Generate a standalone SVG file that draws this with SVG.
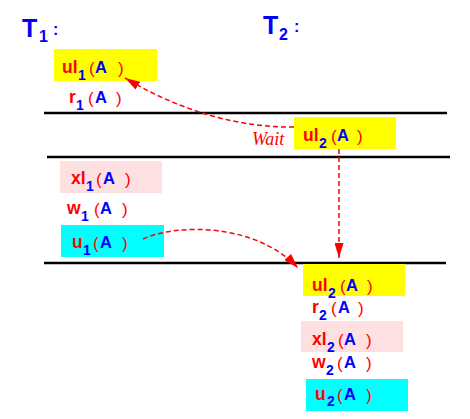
<svg xmlns="http://www.w3.org/2000/svg" width="470" height="419" viewBox="0 0 470 419">
<defs>
<style>
text{font-family:"Liberation Sans",Arial,sans-serif;font-weight:bold;font-size:17.5px}
.r{fill:#ff0000}
.b{fill:#0000ff;font-size:16.5px}
.p{font-weight:normal;font-size:17px}
.s{fill:#0000ff;font-size:14px}
.T{fill:#0000ff;font-size:25px}
.Ts{fill:#0000ff;font-size:16px}
.wait{font-family:"Liberation Serif","Times New Roman",serif;font-style:italic;font-weight:normal;font-size:18px;fill:#ff0000}
.sep{stroke:#000;stroke-width:2.5}
.conn{fill:none;stroke:#ff0000;stroke-width:1.5;stroke-dasharray:5 3}
.yel{fill:#ffff00}
.pink{fill:#ffe0e0}
.cyan{fill:#00ffff}
</style>
<marker id="ah" viewBox="0 0 15 9" refX="15" refY="4.5" markerWidth="15" markerHeight="9" markerUnits="userSpaceOnUse" orient="auto">
<path d="M0,0 L15,4.5 L0,9 z" fill="#ff0000" stroke="none"/>
</marker>
</defs>
<rect width="470" height="419" fill="#ffffff"/>

<g id="T1"><text class="T" x="22" y="37">T</text><text class="Ts" x="39" y="42">1</text><text class="Ts" x="53" y="35">:</text></g>
<g id="T2"><text class="T" x="263" y="34">T</text><text class="Ts" x="279" y="40">2</text><text class="Ts" x="294" y="32">:</text></g>

<g id="separators">
<line class="sep" x1="44" y1="113" x2="447" y2="113"/>
<line class="sep" x1="47" y1="157" x2="450" y2="157"/>
<line class="sep" x1="44" y1="263" x2="446" y2="263"/>
</g>

<g id="ul1"><rect class="yel" x="54" y="49" width="103" height="32"/>
<text class="r" x="62" y="73">ul</text><text class="s" x="78" y="80">1</text><text class="r p" x="89" y="74">(</text><text class="b" x="95" y="73">A</text><text class="r p" x="118" y="74">)</text></g>

<g id="r1"><text class="r" x="69" y="103">r</text><text class="s" x="76" y="110">1</text><text class="r p" x="88" y="104">(</text><text class="b" x="95" y="103">A</text><text class="r p" x="116" y="104">)</text></g>

<g id="ul2a"><rect class="yel" x="294" y="117" width="102" height="32"/>
<text class="r" x="303" y="141">ul</text><text class="s" x="319" y="148">2</text><text class="r p" x="331" y="142">(</text><text class="b" x="337" y="141">A</text><text class="r p" x="357" y="142">)</text></g>

<g id="wait"><text class="wait" x="252" y="145">Wait</text></g>

<g id="xl1"><rect class="pink" x="60" y="161" width="102" height="32"/>
<text class="r" x="71" y="184">xl</text><text class="s" x="86" y="191">1</text><text class="r p" x="96" y="185">(</text><text class="b" x="103" y="184">A</text><text class="r p" x="125" y="185">)</text></g>

<g id="w1"><text class="r" x="67" y="214">w</text><text class="s" x="81" y="221">1</text><text class="r p" x="94" y="215">(</text><text class="b" x="100" y="214">A</text><text class="r p" x="122" y="215">)</text></g>

<g id="u1"><rect class="cyan" x="61" y="225" width="103" height="32"/>
<text class="r" x="72" y="248">u</text><text class="s" x="83" y="255">1</text><text class="r p" x="93" y="249">(</text><text class="b" x="100" y="248">A</text><text class="r p" x="122" y="249">)</text></g>

<g id="ul2b"><rect class="yel" x="303" y="264" width="102" height="32"/>
<text class="r" x="312" y="291">ul</text><text class="s" x="328" y="298">2</text><text class="r p" x="340" y="292">(</text><text class="b" x="346" y="291">A</text><text class="r p" x="367" y="292">)</text></g>

<g id="r2"><text class="r" x="312" y="313">r</text><text class="s" x="319" y="320">2</text><text class="r p" x="331" y="314">(</text><text class="b" x="338" y="313">A</text><text class="r p" x="358" y="314">)</text></g>

<g id="xl2"><rect class="pink" x="301" y="321" width="102" height="31"/>
<text class="r" x="312" y="345">xl</text><text class="s" x="327" y="352">2</text><text class="r p" x="338" y="346">(</text><text class="b" x="344" y="345">A</text><text class="r p" x="366" y="346">)</text></g>

<g id="w2"><text class="r" x="312" y="368">w</text><text class="s" x="326" y="375">2</text><text class="r p" x="337" y="369">(</text><text class="b" x="344" y="368">A</text><text class="r p" x="366" y="369">)</text></g>

<g id="u2"><rect class="cyan" x="306" y="379" width="102" height="32"/>
<text class="r" x="315" y="400">u</text><text class="s" x="327" y="406">2</text><text class="r p" x="337" y="401">(</text><text class="b" x="344" y="400">A</text><text class="r p" x="366" y="401">)</text></g>

<g id="connectors">
<path class="conn" d="M294,127 C230,128 170,105 125,78" marker-end="url(#ah)"/>
<path class="conn" d="M339,149 L339,258" marker-end="url(#ah)"/>
<path class="conn" d="M143,239 C175,224 255,222 298,268" marker-end="url(#ah)"/>
</g>
</svg>
